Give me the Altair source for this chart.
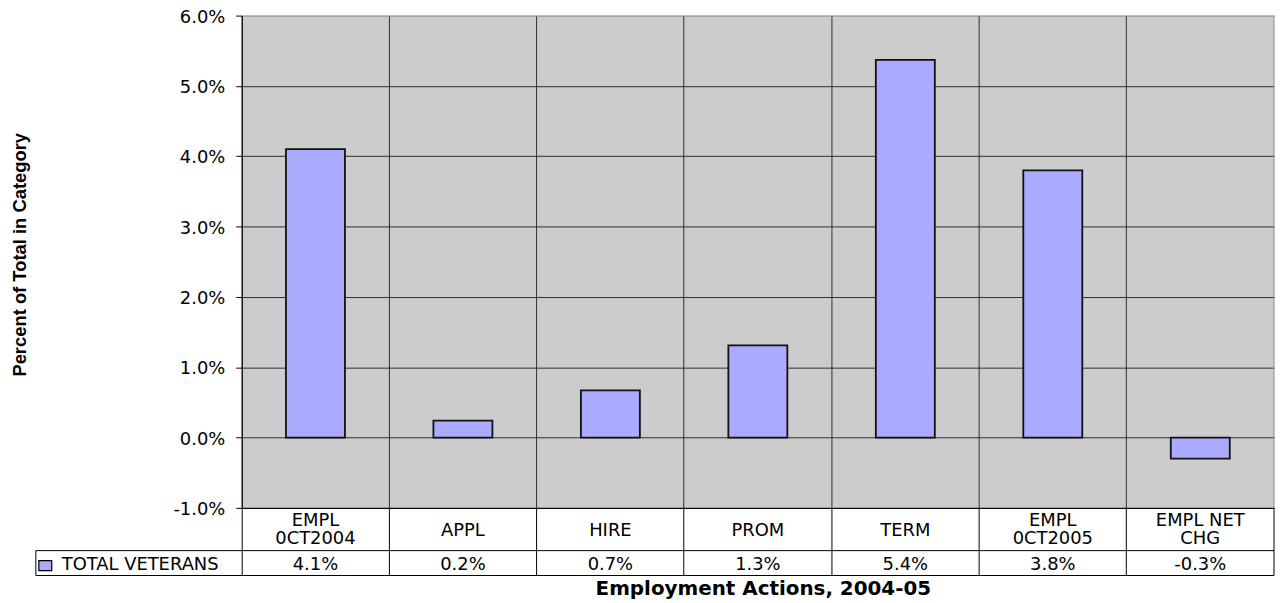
import altair as alt
import pandas as pd

# ---- data ----
categories = ["EMPL\n0CT2004", "APPL", "HIRE", "PROM", "TERM", "EMPL\n0CT2005", "EMPL NET\nCHG"]
total_veterans = [0.0410, 0.0024, 0.0067, 0.0131, 0.0537, 0.0380, -0.0030]
y_ticks = [-0.01, 0.0, 0.01, 0.02, 0.03, 0.04, 0.05, 0.06]
series_name = "TOTAL VETERANS"
x_title = "Employment Actions, 2004-05"
y_title = "Percent of Total in Category"

df = pd.DataFrame({"cat": categories, "value": total_veterans})
one = alt.Data(values=[{"k": 1}])

FONT = "DejaVu Sans"
FS = 18
BAR = "#AAAAFF"
FMT = "replace(format(datum.value, '.1%'), '\u2212', '-')"

x_enc = alt.X(
    "cat:N", sort=categories,
    scale=alt.Scale(paddingInner=0, paddingOuter=0),
    axis=alt.Axis(
        bandPosition=0, grid=True, gridColor="#2e2e2e", gridOpacity=1,
        labels=False, ticks=True, tickSize=68, tickColor="black",
        domain=True, domainColor="black",
        title=x_title, titleFont=FONT, titleFontWeight="bold", titleFontSize=20,
        titleColor="black", titleX=524, titleY=81, titleAlign="center",
        titleBaseline="middle",
    ),
)

y_enc = alt.Y(
    "value:Q",
    scale=alt.Scale(domain=[y_ticks[0], y_ticks[-1]], nice=False),
    axis=alt.Axis(
        values=y_ticks, labelExpr=FMT, labelFont=FONT, labelFontSize=FS,
        labelColor="black", labelPadding=11, labelOffset=1.5, tickSize=6, tickColor="black",
        domainColor="black",
        gridColor=alt.condition("datum.value >= 0.0599", alt.value("#8a8a8a"), alt.value("#2e2e2e")),
        gridOpacity=1,
        title=y_title, titleFont="Liberation Sans", titleFontWeight="bold",
        titleFontSize=18.5, titleColor="black", titleAngle=270,
        titleX=-223, titleY=240, titleAlign="center", titleBaseline="middle",
    ),
)

bars = alt.Chart(df).mark_bar(
    width=alt.RelativeBandSize(0.4), fill=BAR, stroke="#111111", strokeWidth=1.8
).encode(x=x_enc, y=y_enc)

cat_one_line = alt.Chart(df).transform_filter(
    "indexof(datum.cat, '\\n') < 0"
).mark_text(
    font=FONT, fontSize=FS, baseline="middle", color="black"
).encode(x=alt.X("cat:N", sort=categories), y=alt.value(518.5), text="cat:N")

cat_two_line = alt.Chart(df).transform_filter(
    "indexof(datum.cat, '\\n') >= 0"
).mark_text(
    lineBreak="\n", font=FONT, fontSize=FS, lineHeight=18.5, baseline="middle", color="black"
).encode(x=alt.X("cat:N", sort=categories), y=alt.value(508), text="cat:N")

val_text = alt.Chart(df).transform_calculate(
    lbl="replace(format(datum.value, '.1%'), '\u2212', '-')"
).mark_text(font=FONT, fontSize=FS, baseline="middle", color="black").encode(
    x=alt.X("cat:N", sort=categories), y=alt.value(552), text="lbl:N"
)

row_label = alt.Chart(one).mark_text(
    font=FONT, fontSize=FS, baseline="middle", align="left", color="black", text=series_name
).encode(x=alt.value(-181), y=alt.value(552))

legend_sq = alt.Chart(one).mark_rect(fill=BAR, stroke="black", strokeWidth=1.2).encode(
    x=alt.value(-204), x2=alt.value(-191), y=alt.value(548), y2=alt.value(558)
)

rule_black = dict(color="black", strokeWidth=1)
h1 = alt.Chart(one).mark_rule(**rule_black).encode(x=alt.value(-207), x2=alt.value("width"), y=alt.value(538))
h2 = alt.Chart(one).mark_rule(**rule_black).encode(x=alt.value(-207), x2=alt.value("width"), y=alt.value(563))
vleft = alt.Chart(one).mark_rule(**rule_black).encode(x=alt.value(-207), y=alt.value(538), y2=alt.value(563))
vright_tab = alt.Chart(one).mark_rule(**rule_black).encode(x=alt.value("width"), y=alt.value("height"), y2=alt.value(563))
vright_plot = alt.Chart(one).mark_rule(color="#8a8a8a", strokeWidth=1).encode(
    x=alt.value("width"), y=alt.value(0), y2=alt.value("height")
)

chart = alt.layer(
    bars, cat_one_line, cat_two_line, val_text, row_label, legend_sq,
    h1, h2, vleft, vright_tab, vright_plot
).properties(
    width=1038, height=495,
    autosize=alt.AutoSizeParams(type="none"),
    padding={"left": 235, "top": 6, "right": 1, "bottom": 92},
).configure(background="white").configure_view(fill="#CCCCCC", strokeWidth=0)

chart.save("out.html", embed_options={"renderer": "svg", "actions": False})
